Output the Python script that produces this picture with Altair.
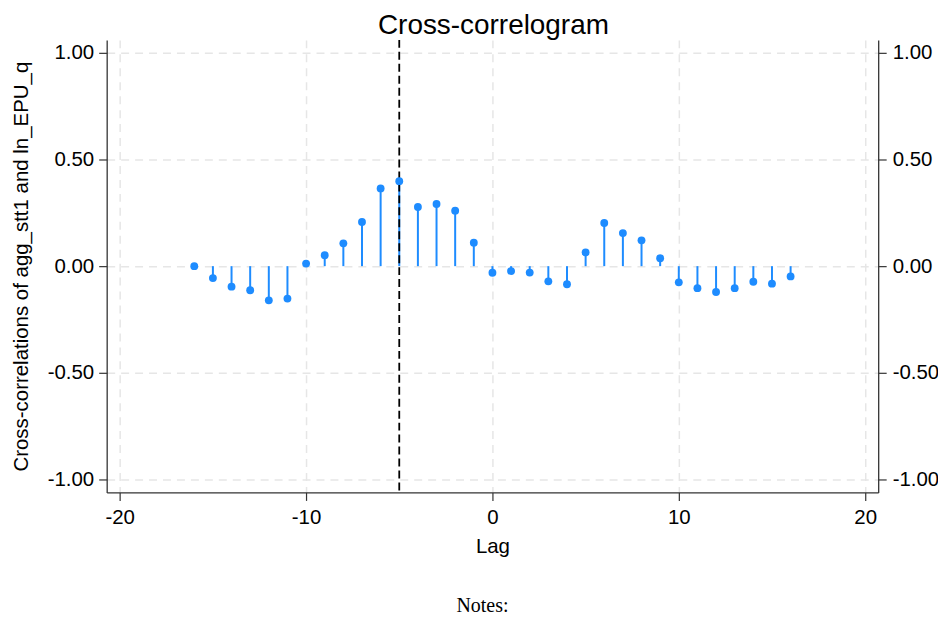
import altair as alt
import pandas as pd

# Data
lags = list(range(-16, 17))
ccf = [0.000, -0.056, -0.096, -0.113, -0.160, -0.152, 0.012, 0.051, 0.107, 0.207,
       0.364, 0.398, 0.277, 0.291, 0.260, 0.110, -0.031, -0.023, -0.030, -0.071,
       -0.085, 0.064, 0.202, 0.155, 0.121, 0.037, -0.076, -0.103, -0.121, -0.103,
       -0.073, -0.082, -0.048]
peak_lag = [-5]
x_ticks = [-20, -10, 0, 10, 20]
y_ticks = [-1.0, -0.5, 0.0, 0.5, 1.0]
title_text = "Cross-correlogram"
y_title = "Cross-correlations of agg_stt1 and ln_EPU_q"
x_title = "Lag"
notes_text = "Notes:"

df = pd.DataFrame({"lag": lags, "ccf": ccf, "base": [0.0] * len(lags)})
df_peak = pd.DataFrame({"lag": peak_lag})

BLUE = "#1E8CFF"
FONT = "Liberation Sans"

xs = alt.Scale(domain=[-20.7, 20.7], nice=False, zero=False)
ys = alt.Scale(domain=[-1.06, 1.06], nice=False, zero=False)

x_label = "datum.value < 0 ? '-' + format(-datum.value, 'd') : format(datum.value, 'd')"
y_label = "datum.value < 0 ? '-' + format(-datum.value, '.2f') : format(datum.value, '.2f')"

x_axis = alt.Axis(values=x_ticks, title=x_title, grid=True, labelExpr=x_label,
                  labelPadding=7, titlePadding=9)
y_left = alt.Axis(values=y_ticks, title=y_title, grid=True, labelExpr=y_label,
                  orient="left", labelPadding=5, titlePadding=16)
y_right = alt.Axis(values=y_ticks, title=None, grid=False, labelExpr=y_label,
                   orient="right", labelPadding=6)

base = alt.Chart(df)

stems = base.mark_rule(color=BLUE, strokeWidth=2).encode(
    x=alt.X("lag:Q", scale=xs, axis=x_axis),
    y=alt.Y("ccf:Q", scale=ys, axis=y_left),
    y2="base:Q",
)

points = base.mark_circle(color=BLUE, size=62, opacity=1).encode(
    x=alt.X("lag:Q", scale=xs, axis=x_axis),
    y=alt.Y("ccf:Q", scale=ys, axis=None),
)

right_axis = base.mark_point(opacity=0).encode(
    x=alt.X("lag:Q", scale=xs, axis=x_axis),
    y=alt.Y("ccf:Q", scale=ys, axis=y_right),
)

vline = alt.Chart(df_peak).mark_rule(color="black", strokeWidth=1.8,
                                     strokeDash=[8, 4]).encode(
    x=alt.X("lag:Q", scale=xs, axis=x_axis),
)

title = alt.Chart(pd.DataFrame({"t": [title_text]})).mark_text(
    font=FONT, fontSize=28, color="black", align="center", baseline="alphabetic",
).encode(x=alt.value(388), y=alt.value(-5.5), text="t:N")

notes = alt.Chart(pd.DataFrame({"t": [notes_text]})).mark_text(
    font="Liberation Serif", fontSize=20, color="black",
    align="center", baseline="alphabetic",
).encode(x=alt.value(377), y=alt.value(574), text="t:N")

chart = (
    alt.layer(stems, vline, points, right_axis, title, notes)
    .resolve_axis(y="independent")
    .properties(
        width=774,
        height=454,
        padding={"left": 99, "top": 31, "right": 60, "bottom": 124},
        autosize=alt.AutoSizeParams(type="none"),
    )
    .configure_view(stroke=None)
    .configure_axis(
        labelFont=FONT, titleFont=FONT, labelFontSize=20.5, titleFontSize=20.5,
        labelColor="black", titleColor="black", titleFontWeight="normal",
        domainColor="#333333", domainWidth=1.3, tickColor="#333333",
        tickSize=8, tickWidth=1.2,
        gridColor="#e6e6e6", gridDash=[8, 6], gridWidth=1.5,
    )
)

chart.save("out.html", embed_options={"renderer": "svg", "actions": False})
